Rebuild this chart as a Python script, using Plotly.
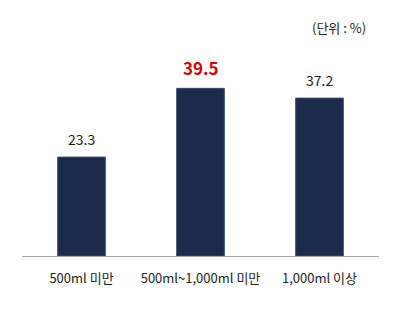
import plotly.graph_objects as go

categories = ["500ml 미만", "500ml~1,000ml 미만", "1,000ml 이상"]
values = [23.3, 39.5, 37.2]
label_colors = ["#1a1a1a", "#e00000", "#1a1a1a"]
label_sizes = [14, 17, 14]
label_bold = [False, True, False]

font_family = "Noto Sans CJK KR, Noto Sans, sans-serif"

fig = go.Figure()
fig.add_trace(go.Bar(
    x=categories, y=values,
    width=0.4,
    marker=dict(color="#1c2b4b", line=dict(color="#3a4a6a", width=1)),
    hoverinfo="skip",
))

for c, v, col, sz, b in zip(categories, values, label_colors, label_sizes, label_bold):
    txt = f"<b>{v}</b>" if b else f"{v}"
    fig.add_annotation(x=c, y=v, text=txt, showarrow=False, yanchor="bottom",
                       yshift=6, font=dict(color=col, size=sz, family=font_family))

fig.add_annotation(xref="paper", yref="paper", x=0.968, y=1.0, xanchor="right",
                   yanchor="bottom", yshift=26, text="(단위 : %)", showarrow=False,
                   font=dict(size=13, color="#222", family=font_family))

fig.update_layout(
    width=400, height=312,
    margin=dict(l=22, r=21, t=65, b=56),
    paper_bgcolor="white", plot_bgcolor="white",
    showlegend=False,
    xaxis=dict(showline=True, linecolor="#a6a6a6", linewidth=1, ticks="outside",
               ticklen=10, tickcolor="rgba(0,0,0,0)",
               tickfont=dict(size=13, color="#222", family=font_family),
               range=[-0.5, 2.5]),
    yaxis=dict(range=[0, 45], visible=False, showgrid=False),
)

fig.write_html("out.html")
